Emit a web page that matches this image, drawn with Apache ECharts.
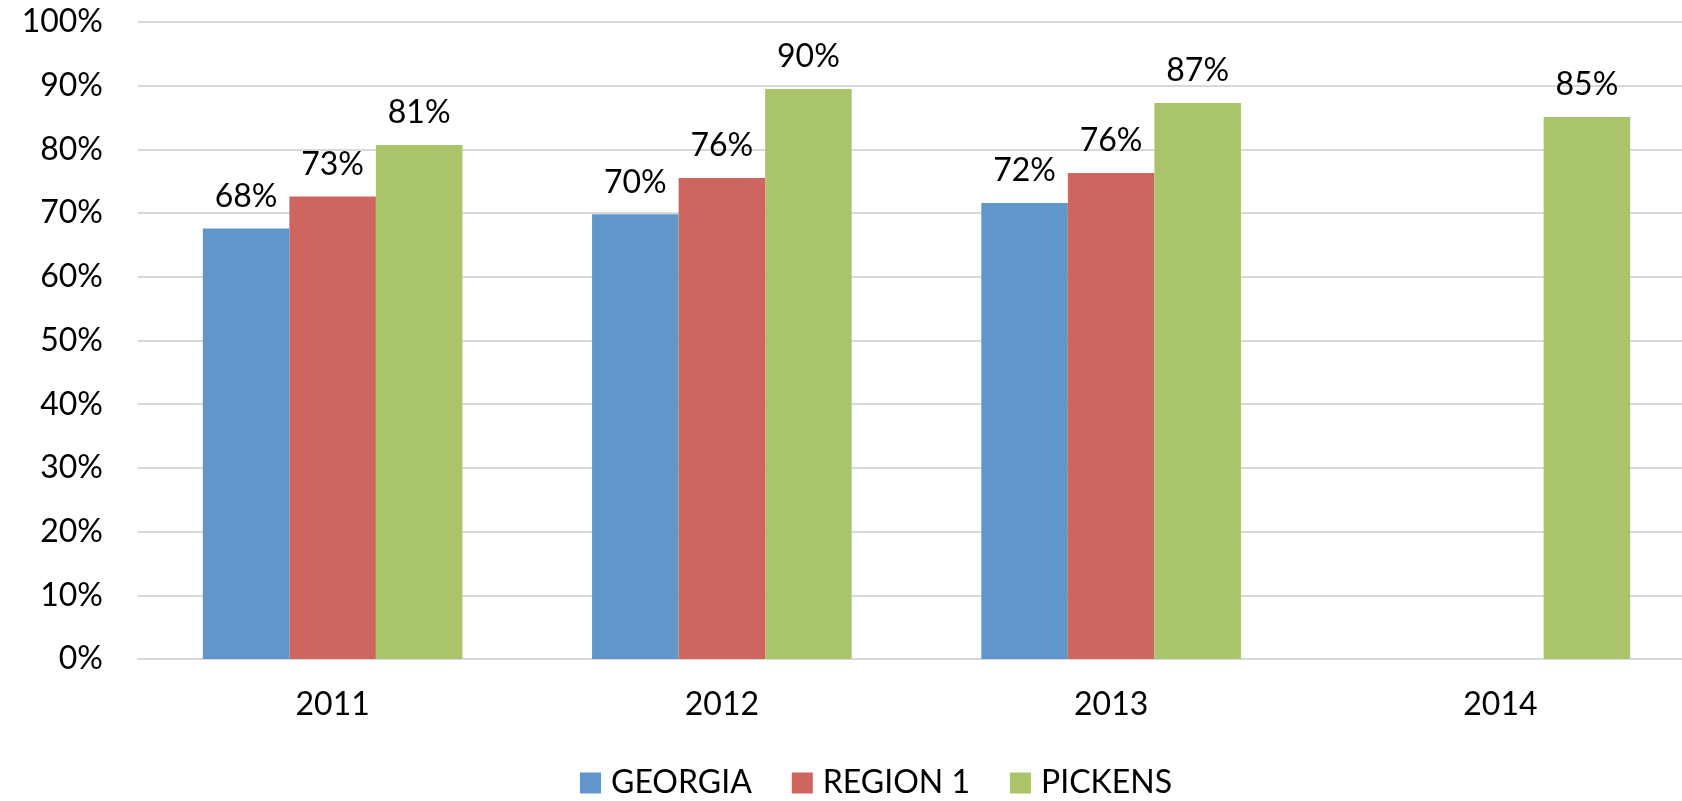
<!DOCTYPE html>
<html>
<head>
<meta charset="utf-8">
<script src="https://cdn.jsdelivr.net/npm/echarts@6/dist/echarts.min.js"></script>
<style>
  html, body { margin: 0; padding: 0; background: #fff; overflow: hidden; }
  /* 比窗口略宽：原图最右一组被裁切 */
  #main { width: 1696px; height: 801px; }
</style>
</head>
<body>
<div id="main"></div>
<script>
// 数据
var years = ['2011', '2012', '2013', '2014'];
var georgia = [67.6, 69.8, 71.6, null];
var region1 = [72.6, 75.5, 76.3, null];
var pickens = [80.7, 89.5, 87.3, 85.1];
var yTicks = [0, 10, 20, 30, 40, 50, 60, 70, 80, 90, 100];

var fontFamily = 'Lato';
var colors = ['#6096c9', '#ce6660', '#aac46b'];

var myChart = echarts.init(document.getElementById('main'));

function barSeries(name, data, color) {
    return {
        name: name,
        type: 'bar',
        data: data,
        barGap: 0,
        barCategoryGap: '33.3%',
        itemStyle: { color: color },
        label: {
            show: true,
            position: 'top',
            distance: 16,
            fontFamily: fontFamily,
            fontSize: 32,
            color: '#000',
            formatter: function (p) { return Math.round(p.value) + '%'; }
        }
    };
}

var option = {
    animation: false,
    color: colors,
    grid: { left: 138, right: 1, top: 22, bottom: 142 },
    legend: {
        top: 762,
        left: 575,
        itemWidth: 21,
        itemHeight: 21,
        itemGap: 40,
        icon: 'rect',
        textStyle: { fontFamily: fontFamily, fontSize: 32, color: '#000', padding: [0, 0, 0, 5] },
        data: ['GEORGIA', 'REGION 1', 'PICKENS']
    },
    xAxis: {
        type: 'category',
        data: years,
        axisLine: { show: true, lineStyle: { color: '#d9d9d9', width: 2 } },
        axisTick: { show: false },
        axisLabel: { fontFamily: fontFamily, fontSize: 32, color: '#000', margin: 30 }
    },
    yAxis: {
        type: 'value',
        min: yTicks[0],
        max: yTicks[yTicks.length - 1],
        interval: 10,
        axisLine: { show: false },
        axisTick: { show: false },
        splitLine: { lineStyle: { color: '#d9d9d9', width: 2 } },
        axisLabel: {
            fontFamily: fontFamily, fontSize: 32, color: '#000', margin: 35,
            formatter: '{value}%'
        }
    },
    series: [
        barSeries('GEORGIA', georgia, colors[0]),
        barSeries('REGION 1', region1, colors[1]),
        barSeries('PICKENS', pickens, colors[2])
    ]
};

myChart.setOption(option);
</script>
</body>
</html>
